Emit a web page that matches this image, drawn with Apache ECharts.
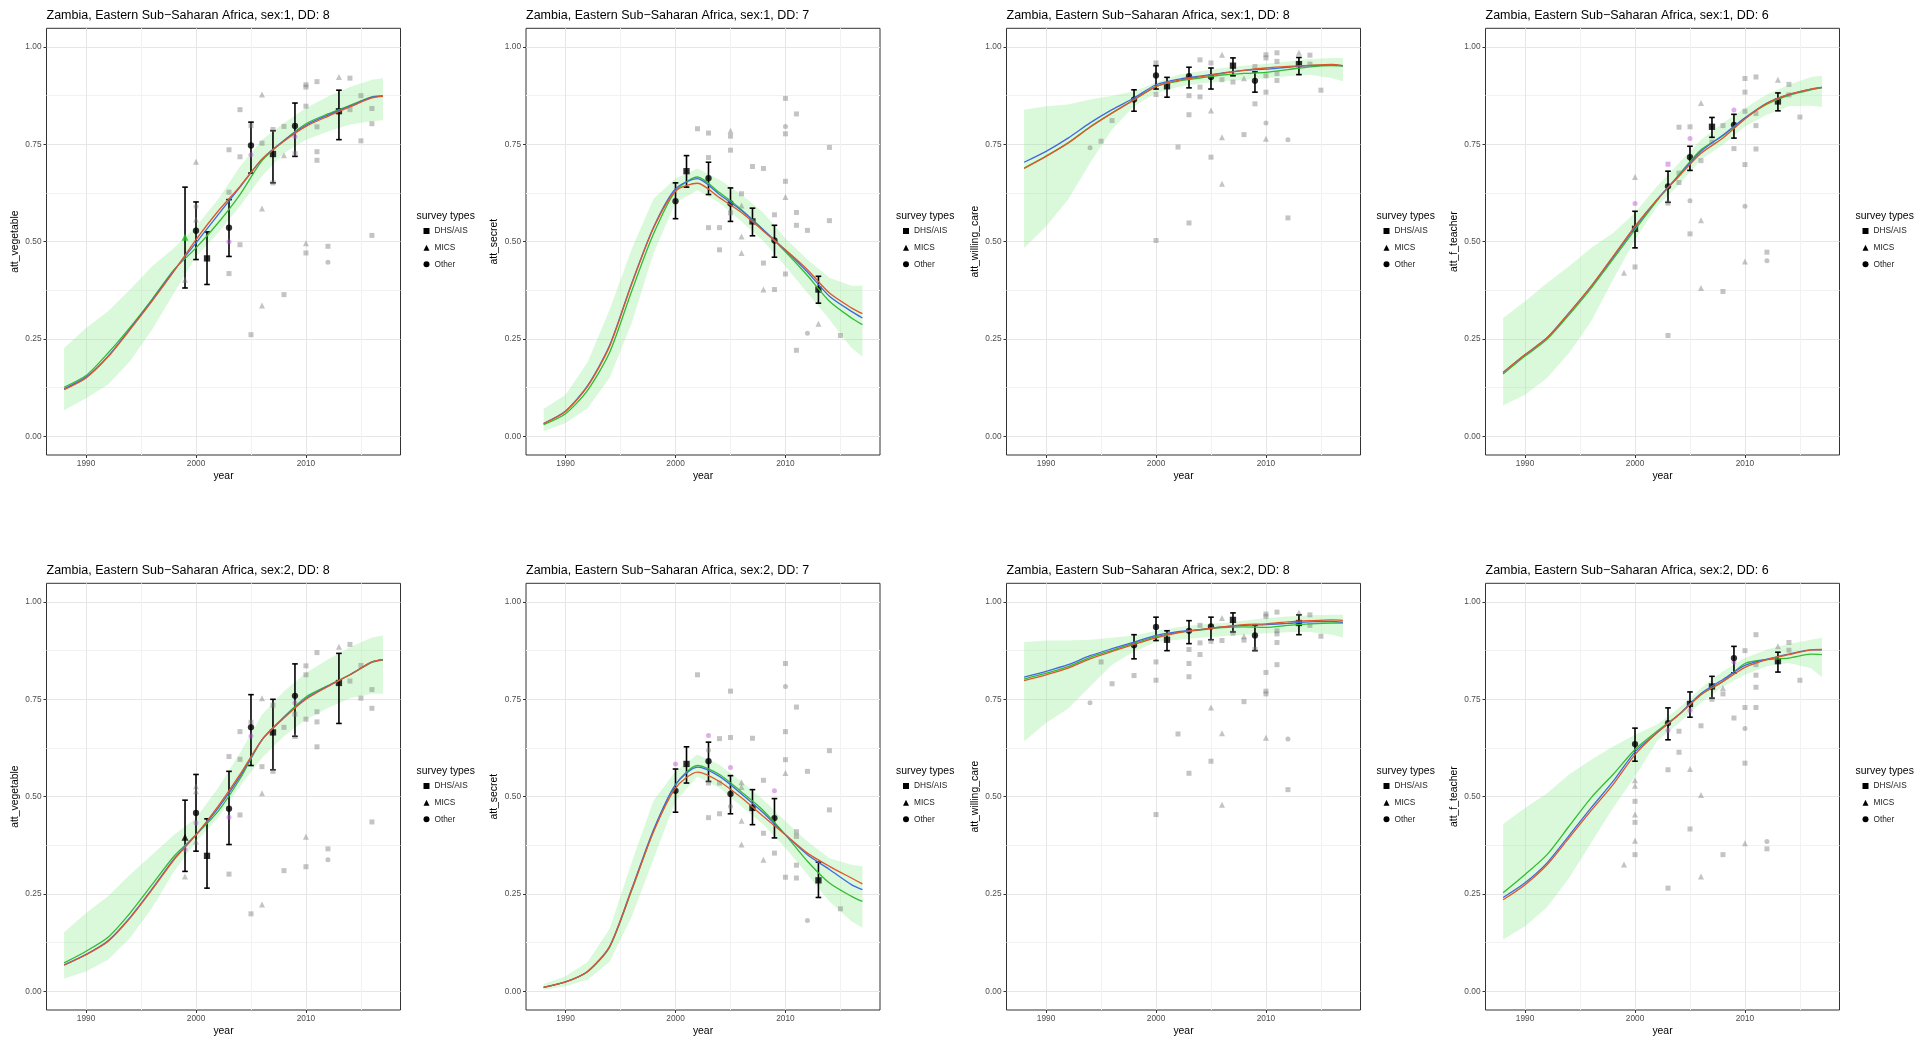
<!DOCTYPE html>
<html lang="en">

<head>
    <meta charset="UTF-8">
    <title>Zambia, Eastern Sub-Saharan Africa</title>
    <script src="https://cdn.jsdelivr.net/npm/echarts/dist/echarts.min.js"></script>
    <style>
        html, body { margin: 0; padding: 0; background: #fff; }
        #main { width: 1917px; height: 1039px; }
    </style>
</head>

<body>
    <div id="main"></div>
    <script type="text/javascript">
        // years the fitted curves / band are read at
        var years = [1988, 1990, 1992, 1994, 1996, 1998, 2000, 2002, 2004, 2006, 2008, 2010, 2012, 2014, 2016, 2017];
        var xMajor = [1990, 2000, 2010];
        var xMinor = [1995, 2005, 2015];
        var yMajor = [0, 0.25, 0.5, 0.75, 1];
        var yMinor = [0.125, 0.375, 0.625, 0.875];

        // ---- sex:1, att_vegetable ----
        var veg1Red = [0.120, 0.150, 0.204, 0.274, 0.347, 0.424, 0.505, 0.578, 0.642, 0.712, 0.758, 0.796, 0.822, 0.846, 0.869, 0.873];
        var veg1Blue = [0.122, 0.152, 0.206, 0.276, 0.349, 0.426, 0.497, 0.569, 0.640, 0.712, 0.760, 0.799, 0.825, 0.848, 0.871, 0.874];
        var veg1Green = [0.126, 0.156, 0.214, 0.280, 0.352, 0.428, 0.484, 0.548, 0.621, 0.708, 0.760, 0.803, 0.828, 0.850, 0.872, 0.875];
        var veg1Lo = [0.067, 0.098, 0.133, 0.193, 0.274, 0.368, 0.462, 0.522, 0.591, 0.668, 0.728, 0.762, 0.783, 0.801, 0.809, 0.812];
        var veg1Hi = [0.227, 0.278, 0.321, 0.377, 0.437, 0.484, 0.539, 0.608, 0.693, 0.762, 0.805, 0.843, 0.873, 0.897, 0.916, 0.920];
        var veg1Est = [[1999, 0.511, 0.381, 0.640, 'm'], [2000, 0.528, 0.454, 0.602, 'c'], [2001, 0.457, 0.390, 0.525, 's'], [2003, 0.536, 0.462, 0.608, 'c'],
            [2005, 0.747, 0.676, 0.807, 'c'], [2007, 0.725, 0.651, 0.785, 's'], [2009, 0.797, 0.719, 0.856, 'c'], [2013, 0.835, 0.762, 0.889, 's']];
        var veg1Obs = [[1999, 0.402, 't'], [2000, 0.705, 't'], [2000, 0.590, 'c'], [2000, 0.557, 't'], [2003, 0.736, 's'], [2003, 0.627, 's'], [2003, 0.418, 's'],
            [2004, 0.839, 's'], [2004, 0.718, 's'], [2004, 0.492, 's'], [2005, 0.798, 's'], [2005, 0.261, 's'], [2006, 0.878, 't'], [2006, 0.753, 's'],
            [2006, 0.585, 't'], [2006, 0.336, 't'], [2007, 0.788, 's'], [2007, 0.651, 's'], [2008, 0.796, 's'], [2008, 0.722, 't'], [2008, 0.364, 's'],
            [2009, 0.726, 's'], [2010, 0.903, 's'], [2010, 0.897, 's'], [2010, 0.848, 's'], [2010, 0.496, 't'], [2010, 0.471, 's'], [2011, 0.911, 's'],
            [2011, 0.795, 's'], [2011, 0.731, 's'], [2011, 0.709, 's'], [2012, 0.488, 's'], [2012, 0.447, 'c'], [2013, 0.923, 't'], [2014, 0.920, 's'],
            [2014, 0.839, 's'], [2015, 0.875, 's'], [2015, 0.759, 's'], [2016, 0.842, 's'], [2016, 0.803, 's'], [2016, 0.516, 's']];
        var veg1Alt = [[2003, 0.500, 'c'], [2005, 0.723, 'c'], [2009, 0.770, 'c']];

        // ---- sex:1, att_secret ----
        var sec1Red = [0.033, 0.064, 0.128, 0.231, 0.390, 0.535, 0.630, 0.650, 0.613, 0.575, 0.527, 0.479, 0.428, 0.368, 0.330, 0.315];
        var sec1Blue = [0.033, 0.065, 0.130, 0.233, 0.392, 0.537, 0.636, 0.662, 0.621, 0.580, 0.530, 0.478, 0.422, 0.360, 0.321, 0.304];
        var sec1Green = [0.030, 0.058, 0.118, 0.215, 0.372, 0.520, 0.630, 0.666, 0.626, 0.582, 0.530, 0.474, 0.413, 0.347, 0.304, 0.287];
        var sec1Lo = [0.013, 0.034, 0.072, 0.150, 0.290, 0.470, 0.600, 0.632, 0.600, 0.552, 0.501, 0.437, 0.368, 0.300, 0.227, 0.205];
        var sec1Hi = [0.070, 0.107, 0.190, 0.325, 0.480, 0.610, 0.662, 0.688, 0.659, 0.621, 0.574, 0.509, 0.454, 0.407, 0.387, 0.387];
        var sec1Est = [[2000, 0.604, 0.559, 0.651, 'c'], [2001, 0.681, 0.640, 0.721, 's'], [2003, 0.663, 0.621, 0.704, 'c'], [2005, 0.598, 0.552, 0.638, 'c'],
            [2007, 0.552, 0.515, 0.586, 's'], [2009, 0.503, 0.460, 0.542, 'c'], [2013, 0.377, 0.342, 0.411, 's']];
        var sec1Obs = [[2002, 0.790, 's'], [2003, 0.779, 's'], [2003, 0.716, 's'], [2003, 0.536, 's'], [2004, 0.536, 's'], [2004, 0.479, 's'], [2005, 0.785, 't'],
            [2005, 0.771, 's'], [2005, 0.735, 's'], [2005, 0.574, 's'], [2006, 0.623, 's'], [2006, 0.593, 't'], [2006, 0.513, 't'], [2006, 0.471, 't'],
            [2007, 0.693, 's'], [2008, 0.688, 's'], [2008, 0.445, 's'], [2008, 0.377, 't'], [2009, 0.569, 's'], [2009, 0.377, 's'], [2010, 0.868, 's'],
            [2010, 0.796, 'c'], [2010, 0.777, 's'], [2010, 0.655, 's'], [2010, 0.615, 't'], [2010, 0.417, 's'], [2011, 0.828, 's'], [2011, 0.575, 's'],
            [2011, 0.542, 's'], [2011, 0.221, 's'], [2012, 0.529, 's'], [2012, 0.265, 'c'], [2013, 0.289, 't'], [2014, 0.742, 's'], [2014, 0.554, 's'],
            [2015, 0.259, 's']];
        var sec1Alt = [];

        // ---- sex:1, att_willing_care ----
        var care1Red = [0.688, 0.719, 0.753, 0.794, 0.830, 0.864, 0.898, 0.914, 0.923, 0.932, 0.940, 0.946, 0.950, 0.953, 0.955, 0.952];
        var care1Blue = [0.704, 0.732, 0.766, 0.805, 0.839, 0.869, 0.903, 0.917, 0.925, 0.933, 0.940, 0.943, 0.948, 0.952, 0.954, 0.952];
        var care1Green = [0.689, 0.720, 0.754, 0.795, 0.831, 0.865, 0.899, 0.912, 0.920, 0.928, 0.932, 0.935, 0.942, 0.949, 0.952, 0.951];
        var care1Lo = [0.484, 0.539, 0.608, 0.702, 0.788, 0.848, 0.882, 0.897, 0.906, 0.912, 0.916, 0.920, 0.925, 0.929, 0.920, 0.912];
        var care1Hi = [0.839, 0.848, 0.852, 0.865, 0.875, 0.886, 0.909, 0.929, 0.938, 0.946, 0.952, 0.957, 0.963, 0.969, 0.972, 0.972];
        var care1Est = [[1998, 0.865, 0.835, 0.890, 'c'], [2000, 0.927, 0.892, 0.952, 'c'], [2001, 0.899, 0.871, 0.922, 's'], [2003, 0.925, 0.895, 0.948, 'c'],
            [2005, 0.923, 0.892, 0.946, 'c'], [2007, 0.952, 0.926, 0.972, 's'], [2009, 0.913, 0.884, 0.936, 'c'], [2013, 0.956, 0.929, 0.973, 's']];
        var care1Obs = [[1994, 0.741, 'c'], [1995, 0.758, 's'], [1996, 0.811, 's'], [2000, 0.959, 's'], [2000, 0.878, 's'], [2000, 0.503, 's'], [2002, 0.743, 's'],
            [2003, 0.875, 's'], [2003, 0.826, 's'], [2003, 0.548, 's'], [2004, 0.967, 's'], [2004, 0.897, 's'], [2004, 0.872, 's'], [2005, 0.959, 's'],
            [2005, 0.837, 't'], [2005, 0.717, 's'], [2006, 0.980, 't'], [2006, 0.916, 's'], [2006, 0.768, 't'], [2006, 0.649, 't'], [2007, 0.910, 's'],
            [2008, 0.920, 't'], [2008, 0.775, 's'], [2009, 0.950, 's'], [2009, 0.854, 's'], [2010, 0.980, 's'], [2010, 0.972, 's'], [2010, 0.926, 's'],
            [2010, 0.884, 's'], [2010, 0.805, 'c'], [2010, 0.764, 't'], [2011, 0.985, 's'], [2011, 0.963, 's'], [2011, 0.932, 's'], [2011, 0.914, 's'],
            [2012, 0.762, 'c'], [2012, 0.561, 's'], [2013, 0.985, 't'], [2014, 0.979, 's'], [2014, 0.956, 's'], [2015, 0.889, 's']];
        var care1Alt = [];

        // ---- sex:1, att_f_teacher ----
        var teach1Red = [0.164, 0.210, 0.253, 0.317, 0.385, 0.462, 0.540, 0.608, 0.668, 0.727, 0.766, 0.815, 0.855, 0.878, 0.892, 0.896];
        var teach1Blue = [0.164, 0.210, 0.253, 0.317, 0.385, 0.460, 0.537, 0.608, 0.670, 0.732, 0.774, 0.818, 0.856, 0.878, 0.892, 0.896];
        var teach1Green = [0.160, 0.206, 0.249, 0.312, 0.380, 0.455, 0.531, 0.605, 0.672, 0.736, 0.772, 0.817, 0.853, 0.876, 0.890, 0.895];
        var teach1Lo = [0.079, 0.107, 0.150, 0.214, 0.295, 0.402, 0.505, 0.591, 0.646, 0.711, 0.749, 0.796, 0.826, 0.848, 0.849, 0.846];
        var teach1Hi = [0.304, 0.347, 0.394, 0.437, 0.484, 0.522, 0.574, 0.642, 0.702, 0.762, 0.805, 0.843, 0.878, 0.903, 0.923, 0.926];
        var teach1Est = [[2000, 0.533, 0.484, 0.578, 's'], [2003, 0.642, 0.601, 0.681, 'c'], [2005, 0.717, 0.683, 0.745, 'c'], [2007, 0.795, 0.768, 0.819, 's'],
            [2009, 0.800, 0.766, 0.827, 'c'], [2013, 0.860, 0.836, 0.882, 's']];
        var teach1Obs = [[1999, 0.420, 't'], [2000, 0.666, 't'], [2000, 0.435, 's'], [2003, 0.599, 's'], [2003, 0.259, 's'], [2004, 0.794, 's'], [2004, 0.652, 's'],
            [2004, 0.676, 's'], [2005, 0.795, 's'], [2005, 0.605, 'c'], [2005, 0.520, 's'], [2006, 0.856, 't'], [2006, 0.708, 's'], [2006, 0.555, 't'],
            [2006, 0.381, 't'], [2007, 0.756, 's'], [2008, 0.798, 's'], [2008, 0.372, 's'], [2009, 0.739, 's'], [2010, 0.919, 's'], [2010, 0.884, 's'],
            [2010, 0.835, 's'], [2010, 0.698, 's'], [2010, 0.591, 'c'], [2010, 0.449, 't'], [2011, 0.923, 's'], [2011, 0.829, 's'], [2011, 0.798, 's'],
            [2011, 0.738, 's'], [2012, 0.473, 's'], [2012, 0.451, 'c'], [2013, 0.916, 't'], [2014, 0.904, 's'], [2014, 0.877, 's'], [2015, 0.820, 's']];
        var teach1Alt = [[2000, 0.598, 'c'], [2003, 0.699, 's'], [2005, 0.765, 'c'], [2009, 0.838, 'c']];

        // ---- sex:2, att_vegetable ----
        var veg2Red = [0.067, 0.094, 0.128, 0.188, 0.261, 0.338, 0.402, 0.475, 0.557, 0.646, 0.702, 0.750, 0.783, 0.813, 0.846, 0.852];
        var veg2Blue = [0.068, 0.095, 0.130, 0.190, 0.263, 0.340, 0.402, 0.470, 0.552, 0.646, 0.703, 0.752, 0.784, 0.813, 0.846, 0.852];
        var veg2Green = [0.073, 0.103, 0.139, 0.201, 0.274, 0.347, 0.402, 0.462, 0.546, 0.646, 0.705, 0.756, 0.785, 0.813, 0.845, 0.851];
        var veg2Lo = [0.033, 0.051, 0.081, 0.137, 0.214, 0.308, 0.385, 0.445, 0.527, 0.599, 0.655, 0.698, 0.728, 0.753, 0.764, 0.764];
        var veg2Hi = [0.152, 0.201, 0.244, 0.300, 0.351, 0.402, 0.445, 0.522, 0.612, 0.711, 0.771, 0.818, 0.852, 0.884, 0.909, 0.914];
        var veg2Est = [[1999, 0.396, 0.308, 0.491, 't'], [2000, 0.458, 0.360, 0.557, 'c'], [2001, 0.348, 0.265, 0.443, 's'], [2003, 0.469, 0.377, 0.565, 'c'],
            [2005, 0.678, 0.580, 0.762, 'c'], [2007, 0.665, 0.569, 0.750, 's'], [2009, 0.759, 0.655, 0.841, 'c'], [2013, 0.792, 0.688, 0.868, 's']];
        var veg2Obs = [[1999, 0.295, 't'], [2000, 0.527, 't'], [2000, 0.514, 't'], [2000, 0.385, 't'], [2003, 0.603, 's'], [2003, 0.301, 's'], [2004, 0.667, 's'],
            [2004, 0.596, 's'], [2004, 0.453, 's'], [2005, 0.691, 's'], [2005, 0.199, 's'], [2006, 0.753, 't'], [2006, 0.577, 's'], [2006, 0.509, 't'],
            [2006, 0.223, 't'], [2007, 0.735, 's'], [2007, 0.565, 's'], [2008, 0.678, 's'], [2008, 0.310, 's'], [2009, 0.712, 's'], [2009, 0.656, 't'],
            [2010, 0.836, 's'], [2010, 0.813, 's'], [2010, 0.699, 's'], [2010, 0.397, 't'], [2010, 0.320, 's'], [2011, 0.870, 's'], [2011, 0.718, 's'],
            [2011, 0.692, 's'], [2011, 0.628, 's'], [2012, 0.366, 's'], [2012, 0.338, 'c'], [2013, 0.885, 't'], [2014, 0.891, 's'], [2014, 0.797, 's'],
            [2015, 0.837, 's'], [2015, 0.753, 's'], [2016, 0.775, 's'], [2016, 0.727, 's'], [2016, 0.435, 's']];
        var veg2Alt = [[1999, 0.364, 'c'], [2000, 0.432, 'c'], [2003, 0.447, 'c'], [2005, 0.656, 'c'], [2009, 0.741, 'c']];

        // ---- sex:2, att_secret ----
        var sec2Red = [0.010, 0.024, 0.051, 0.115, 0.260, 0.410, 0.522, 0.563, 0.539, 0.497, 0.449, 0.402, 0.355, 0.321, 0.291, 0.276];
        var sec2Blue = [0.010, 0.024, 0.051, 0.115, 0.262, 0.415, 0.531, 0.576, 0.552, 0.507, 0.458, 0.402, 0.351, 0.313, 0.274, 0.261];
        var sec2Green = [0.010, 0.024, 0.050, 0.113, 0.258, 0.412, 0.531, 0.580, 0.557, 0.512, 0.464, 0.402, 0.334, 0.278, 0.244, 0.231];
        var sec2Lo = [0.004, 0.013, 0.030, 0.075, 0.190, 0.340, 0.488, 0.552, 0.522, 0.475, 0.428, 0.368, 0.300, 0.231, 0.180, 0.163];
        var sec2Hi = [0.019, 0.039, 0.075, 0.160, 0.330, 0.490, 0.565, 0.608, 0.582, 0.539, 0.492, 0.437, 0.385, 0.342, 0.325, 0.321];
        var sec2Est = [[2000, 0.515, 0.460, 0.571, 'c'], [2001, 0.584, 0.535, 0.628, 's'], [2003, 0.591, 0.539, 0.640, 'c'], [2005, 0.507, 0.456, 0.554, 'c'],
            [2007, 0.471, 0.428, 0.518, 's'], [2009, 0.445, 0.394, 0.495, 'c'], [2013, 0.285, 0.241, 0.332, 's']];
        var sec2Obs = [[2002, 0.813, 's'], [2003, 0.619, 'c'], [2003, 0.535, 's'], [2003, 0.446, 's'], [2004, 0.649, 's'], [2004, 0.535, 's'], [2004, 0.456, 's'],
            [2005, 0.771, 's'], [2005, 0.652, 's'], [2005, 0.475, 'c'], [2006, 0.537, 't'], [2006, 0.525, 't'], [2006, 0.438, 't'], [2006, 0.377, 't'],
            [2007, 0.650, 's'], [2008, 0.542, 's'], [2008, 0.406, 's'], [2008, 0.338, 't'], [2009, 0.355, 's'], [2010, 0.842, 's'], [2010, 0.783, 'c'],
            [2010, 0.667, 's'], [2010, 0.595, 's'], [2010, 0.561, 't'], [2010, 0.293, 's'], [2011, 0.730, 's'], [2011, 0.410, 's'], [2011, 0.398, 's'],
            [2011, 0.324, 's'], [2011, 0.291, 's'], [2012, 0.565, 's'], [2012, 0.182, 'c'], [2014, 0.618, 's'], [2014, 0.466, 's'], [2015, 0.212, 's']];
        var sec2Alt = [[2000, 0.584, 'c'], [2003, 0.657, 'c'], [2005, 0.575, 'c'], [2009, 0.515, 'c']];

        // ---- sex:2, att_willing_care ----
        var care2Red = [0.798, 0.813, 0.830, 0.854, 0.873, 0.891, 0.908, 0.921, 0.929, 0.936, 0.942, 0.944, 0.949, 0.952, 0.954, 0.953];
        var care2Blue = [0.807, 0.822, 0.839, 0.862, 0.880, 0.897, 0.914, 0.924, 0.929, 0.936, 0.940, 0.942, 0.945, 0.949, 0.950, 0.948];
        var care2Green = [0.802, 0.817, 0.834, 0.858, 0.876, 0.894, 0.911, 0.922, 0.928, 0.934, 0.936, 0.935, 0.940, 0.944, 0.946, 0.946];
        var care2Lo = [0.642, 0.689, 0.726, 0.783, 0.839, 0.873, 0.897, 0.903, 0.908, 0.912, 0.916, 0.920, 0.922, 0.923, 0.916, 0.909];
        var care2Hi = [0.897, 0.901, 0.901, 0.903, 0.908, 0.914, 0.926, 0.935, 0.942, 0.946, 0.952, 0.959, 0.963, 0.966, 0.967, 0.967];
        var care2Est = [[1998, 0.889, 0.854, 0.916, 'c'], [2000, 0.936, 0.901, 0.961, 'c'], [2001, 0.903, 0.875, 0.926, 's'], [2003, 0.926, 0.893, 0.952, 'c'],
            [2005, 0.937, 0.903, 0.961, 'c'], [2007, 0.954, 0.923, 0.972, 's'], [2009, 0.914, 0.875, 0.940, 'c'], [2013, 0.946, 0.916, 0.967, 's']];
        var care2Obs = [[1994, 0.741, 'c'], [1995, 0.846, 's'], [1996, 0.790, 's'], [1998, 0.811, 's'], [2000, 0.846, 's'], [2000, 0.799, 's'], [2000, 0.454, 's'],
            [2002, 0.661, 's'], [2003, 0.878, 's'], [2003, 0.842, 's'], [2003, 0.808, 's'], [2003, 0.560, 's'], [2004, 0.940, 's'], [2004, 0.895, 's'],
            [2004, 0.865, 's'], [2005, 0.899, 's'], [2005, 0.729, 't'], [2005, 0.591, 's'], [2006, 0.959, 't'], [2006, 0.901, 's'], [2006, 0.663, 't'],
            [2006, 0.479, 't'], [2007, 0.920, 's'], [2008, 0.912, 't'], [2008, 0.902, 's'], [2008, 0.744, 's'], [2009, 0.878, 's'], [2010, 0.969, 's'],
            [2010, 0.963, 's'], [2010, 0.819, 's'], [2010, 0.771, 's'], [2010, 0.764, 's'], [2010, 0.651, 't'], [2011, 0.974, 's'], [2011, 0.926, 's'],
            [2011, 0.918, 's'], [2011, 0.896, 's'], [2011, 0.839, 's'], [2012, 0.648, 'c'], [2012, 0.518, 's'], [2013, 0.973, 't'], [2014, 0.967, 's'],
            [2014, 0.940, 's'], [2015, 0.912, 's']];
        var care2Alt = [];

        // ---- sex:2, att_f_teacher ----
        var teach2Red = [0.235, 0.274, 0.325, 0.394, 0.464, 0.531, 0.608, 0.664, 0.711, 0.762, 0.796, 0.832, 0.852, 0.865, 0.877, 0.878];
        var teach2Blue = [0.241, 0.279, 0.330, 0.400, 0.471, 0.539, 0.615, 0.664, 0.711, 0.765, 0.801, 0.837, 0.853, 0.866, 0.877, 0.877];
        var teach2Green = [0.253, 0.300, 0.351, 0.424, 0.497, 0.557, 0.621, 0.668, 0.711, 0.762, 0.796, 0.842, 0.852, 0.856, 0.866, 0.865];
        var teach2Lo = [0.133, 0.167, 0.216, 0.291, 0.381, 0.471, 0.552, 0.642, 0.689, 0.741, 0.783, 0.813, 0.835, 0.843, 0.830, 0.807];
        var teach2Hi = [0.430, 0.471, 0.509, 0.557, 0.595, 0.629, 0.659, 0.685, 0.728, 0.779, 0.822, 0.856, 0.878, 0.892, 0.903, 0.908];
        var teach2Est = [[2000, 0.635, 0.591, 0.676, 'c'], [2003, 0.689, 0.646, 0.728, 'c'], [2005, 0.738, 0.704, 0.769, 's'], [2007, 0.783, 0.753, 0.809, 's'],
            [2009, 0.856, 0.818, 0.886, 'c'], [2013, 0.848, 0.820, 0.871, 's']];
        var teach2Obs = [[1999, 0.326, 't'], [2000, 0.542, 't'], [2000, 0.528, 't'], [2000, 0.488, 's'], [2000, 0.454, 't'], [2000, 0.434, 's'], [2000, 0.387, 't'],
            [2000, 0.351, 's'], [2003, 0.569, 's'], [2003, 0.265, 's'], [2004, 0.668, 's'], [2004, 0.614, 's'], [2005, 0.571, 't'], [2005, 0.417, 's'],
            [2006, 0.682, 's'], [2006, 0.504, 't'], [2006, 0.295, 't'], [2007, 0.750, 's'], [2008, 0.779, 't'], [2008, 0.764, 's'], [2008, 0.351, 's'],
            [2009, 0.702, 's'], [2010, 0.875, 's'], [2010, 0.729, 's'], [2010, 0.675, 'c'], [2010, 0.586, 's'], [2010, 0.380, 't'], [2011, 0.916, 's'],
            [2011, 0.839, 's'], [2011, 0.812, 's'], [2011, 0.781, 's'], [2011, 0.729, 's'], [2012, 0.385, 'c'], [2012, 0.366, 's'], [2013, 0.886, 't'],
            [2014, 0.896, 's'], [2014, 0.876, 's'], [2015, 0.799, 's']];
        var teach2Alt = [[2003, 0.670, 'c'], [2005, 0.721, 'c'], [2009, 0.846, 'c']];

        var place = 'Zambia, Eastern Sub\u2212Saharan Africa';
        var panels = [
            { title: place + ', sex:1, DD: 8', yName: 'att_vegetable', red: veg1Red, blue: veg1Blue, green: veg1Green, lo: veg1Lo, hi: veg1Hi, est: veg1Est, obs: veg1Obs, alt: veg1Alt },
            { title: place + ', sex:1, DD: 7', yName: 'att_secret', red: sec1Red, blue: sec1Blue, green: sec1Green, lo: sec1Lo, hi: sec1Hi, est: sec1Est, obs: sec1Obs, alt: sec1Alt },
            { title: place + ', sex:1, DD: 8', yName: 'att_willing_care', red: care1Red, blue: care1Blue, green: care1Green, lo: care1Lo, hi: care1Hi, est: care1Est, obs: care1Obs, alt: care1Alt },
            { title: place + ', sex:1, DD: 6', yName: 'att_f_teacher', red: teach1Red, blue: teach1Blue, green: teach1Green, lo: teach1Lo, hi: teach1Hi, est: teach1Est, obs: teach1Obs, alt: teach1Alt },
            { title: place + ', sex:2, DD: 8', yName: 'att_vegetable', red: veg2Red, blue: veg2Blue, green: veg2Green, lo: veg2Lo, hi: veg2Hi, est: veg2Est, obs: veg2Obs, alt: veg2Alt },
            { title: place + ', sex:2, DD: 7', yName: 'att_secret', red: sec2Red, blue: sec2Blue, green: sec2Green, lo: sec2Lo, hi: sec2Hi, est: sec2Est, obs: sec2Obs, alt: sec2Alt },
            { title: place + ', sex:2, DD: 8', yName: 'att_willing_care', red: care2Red, blue: care2Blue, green: care2Green, lo: care2Lo, hi: care2Hi, est: care2Est, obs: care2Obs, alt: care2Alt },
            { title: place + ', sex:2, DD: 6', yName: 'att_f_teacher', red: teach2Red, blue: teach2Blue, green: teach2Green, lo: teach2Lo, hi: teach2Hi, est: teach2Est, obs: teach2Obs, alt: teach2Alt }
        ];

        var FONT = '"Liberation Sans", Arial, Helvetica, sans-serif';
        var colLeft = [46.5, 526, 1006.5, 1485.5];
        var rowTop = [28.3, 583.3];
        var gridW = 354, gridH = 426.7;
        var xMin = 1986.4, xMax = 2018.6, yMin = -0.048, yMax = 1.048;

        var shapeSymbol = { s: 'rect', t: 'triangle', c: 'circle', m: 'triangle' };
        var shapeName = { s: 'DHS/AIS', t: 'MICS', c: 'Other', m: 'MICS' };
        var shapeSize = { s: 5, t: 6, c: 5, m: 6.5 };
        var estSize = { s: 6.3, t: 7, c: 6.3, m: 7 };

        var grids = [], xAxes = [], yAxes = [], series = [], titles = [], legends = [];

        panels.forEach(function (p, i) {
            var left = colLeft[i % 4];
            var top = rowTop[Math.floor(i / 4)];
            grids.push({
                left: left, top: top, width: gridW, height: gridH,
                show: true, borderColor: '#333', borderWidth: 1, backgroundColor: '#fff',
                containLabel: false, outerBoundsMode: 'none'
            });

            // minor grid lines first (drawn under the major ones)
            xAxes.push({
                gridIndex: i, type: 'value', min: xMin, max: xMax, position: 'top',
                axisLine: { show: false, onZero: false }, axisLabel: { show: false },
                axisTick: { show: false, customValues: xMinor },
                splitLine: { show: true, lineStyle: { color: '#f2f2f2', width: 1 } }
            });
            xAxes.push({
                gridIndex: i, type: 'value', min: xMin, max: xMax, position: 'bottom',
                name: 'year', nameLocation: 'middle', nameGap: 16.5, nameMoveOverlap: false,
                nameTextStyle: { fontSize: 10.4, color: '#000', fontFamily: FONT },
                axisLine: { show: false, onZero: false },
                axisTick: { show: true, length: 3, customValues: xMajor, lineStyle: { color: '#333', width: 1 } },
                axisLabel: {
                    customValues: xMajor, margin: 5, fontSize: 8.3, color: '#4d4d4d', fontFamily: FONT,
                    formatter: function (v) { return String(Math.round(v)); }
                },
                splitLine: { show: true, lineStyle: { color: '#e6e6e6', width: 1 } }
            });
            yAxes.push({
                gridIndex: i, type: 'value', min: yMin, max: yMax, position: 'right',
                axisLine: { show: false, onZero: false }, axisLabel: { show: false },
                axisTick: { show: false, customValues: yMinor },
                splitLine: { show: true, lineStyle: { color: '#f2f2f2', width: 1 } }
            });
            yAxes.push({
                gridIndex: i, type: 'value', min: yMin, max: yMax, position: 'left',
                name: p.yName, nameLocation: 'middle', nameGap: 26.5, nameMoveOverlap: false,
                nameTextStyle: { fontSize: 10.4, color: '#000', fontFamily: FONT },
                axisLine: { show: false, onZero: false },
                axisTick: { show: true, length: 3, customValues: yMajor, lineStyle: { color: '#333', width: 1 } },
                axisLabel: {
                    customValues: yMajor, margin: 5, fontSize: 8.3, color: '#4d4d4d', fontFamily: FONT,
                    formatter: function (v) { return Number(v).toFixed(2); }
                },
                splitLine: { show: true, lineStyle: { color: '#e6e6e6', width: 1 } }
            });

            var xi = 2 * i + 1, yi = 2 * i + 1;
            var base = { xAxisIndex: xi, yAxisIndex: yi, animation: false };

            // uncertainty band: one polygon through (year, hi) and back along (year, lo)
            series.push(Object.assign({
                type: 'custom', silent: true,
                encode: { x: 0, y: [1, 2] },
                data: years.map(function (y, k) { return [y, p.lo[k], p.hi[k]]; }),
                renderItem: function (params, api) {
                    if (params.dataIndexInside !== 0) return null;
                    var up = [], dn = [];
                    for (var k = 0; k < params.dataInsideLength; k++) {
                        var x = api.value(0, k);
                        up.push(api.coord([x, api.value(2, k)]));
                        dn.unshift(api.coord([x, api.value(1, k)]));
                    }
                    return {
                        type: 'polygon',
                        shape: { points: up.concat(dn) },
                        style: { fill: 'rgba(144, 238, 144, 0.33)', stroke: null }
                    };
                }
            }, base));

            // gray observations
            ['s', 't', 'c'].forEach(function (sh) {
                var d = p.obs.filter(function (o) { return o[2] === sh; }).map(function (o) { return [o[0], o[1]]; });
                if (d.length) series.push(Object.assign({
                    type: 'scatter', name: shapeName[sh], symbol: shapeSymbol[sh], symbolSize: shapeSize[sh],
                    itemStyle: { color: 'rgba(120, 120, 120, 0.55)' }, data: d
                }, base));
                var a = p.alt.filter(function (o) { return o[2] === sh; }).map(function (o) { return [o[0], o[1]]; });
                if (a.length) series.push(Object.assign({
                    type: 'scatter', name: shapeName[sh], symbol: shapeSymbol[sh], symbolSize: shapeSize[sh],
                    itemStyle: { color: 'rgba(186, 85, 211, 0.6)' }, data: a
                }, base));
            });

            // fitted curves
            [[p.green, '#33bb33'], [p.blue, '#4169e1'], [p.red, '#e0562c']].forEach(function (c) {
                series.push(Object.assign({
                    type: 'line', symbol: 'none', smooth: 0.25,
                    lineStyle: { color: c[1], width: 1.3 }, itemStyle: { color: c[1] },
                    data: years.map(function (y, k) { return [y, c[0][k]]; })
                }, base));
            });

            // error bars
            series.push(Object.assign({
                type: 'custom',
                encode: { x: 0, y: [1, 2] },
                data: p.est.map(function (e) { return [e[0], e[2], e[3]]; }),
                renderItem: function (params, api) {
                    var x = api.value(0);
                    var a = api.coord([x, api.value(2)]);
                    var b = api.coord([x, api.value(1)]);
                    var w = 2.8;
                    var st = { stroke: '#000', lineWidth: 1.6 };
                    return {
                        type: 'group', children: [
                            { type: 'line', shape: { x1: a[0], y1: a[1], x2: b[0], y2: b[1] }, style: st },
                            { type: 'line', shape: { x1: a[0] - w, y1: a[1], x2: a[0] + w, y2: a[1] }, style: st },
                            { type: 'line', shape: { x1: b[0] - w, y1: b[1], x2: b[0] + w, y2: b[1] }, style: st }
                        ]
                    };
                }
            }, base));

            // point estimates
            ['s', 't', 'c', 'm'].forEach(function (sh) {
                var d = p.est.filter(function (e) { return e[4] === sh; }).map(function (e) { return [e[0], e[1]]; });
                if (d.length) series.push(Object.assign({
                    type: 'scatter', name: shapeName[sh], symbol: shapeSymbol[sh], symbolSize: estSize[sh],
                    itemStyle: { color: sh === 'm' ? '#1fc01f' : '#000' }, data: d
                }, base));
            });

            titles.push({
                text: p.title, left: left, top: top - 19.6, padding: 0,
                textStyle: { fontSize: 12.5, fontWeight: 'normal', color: '#000', fontFamily: FONT, lineHeight: 14 }
            });
            titles.push({
                text: 'survey types', left: left + 370, top: top + 180.4, padding: 0,
                textStyle: { fontSize: 10.4, fontWeight: 'normal', color: '#000', fontFamily: FONT, lineHeight: 14 }
            });
            legends.push({
                orient: 'vertical', left: left + 377, top: top + 196.7, padding: 0,
                itemWidth: 6, itemHeight: 6, itemGap: 4.65, selectedMode: false,
                itemStyle: { color: '#000', borderWidth: 0, opacity: 1 },
                textStyle: { fontSize: 8.3, color: '#1a1a1a', fontFamily: FONT, lineHeight: 12 },
                data: [
                    { name: 'DHS/AIS', icon: 'rect' },
                    { name: 'MICS', icon: 'triangle' },
                    { name: 'Other', icon: 'circle' }
                ]
            });
        });

        var myChart = echarts.init(document.getElementById('main'));
        var option = {
            animation: false,
            backgroundColor: '#fff',
            title: titles,
            legend: legends,
            grid: grids,
            xAxis: xAxes,
            yAxis: yAxes,
            series: series
        };
        myChart.setOption(option);
    </script>
</body>

</html>
